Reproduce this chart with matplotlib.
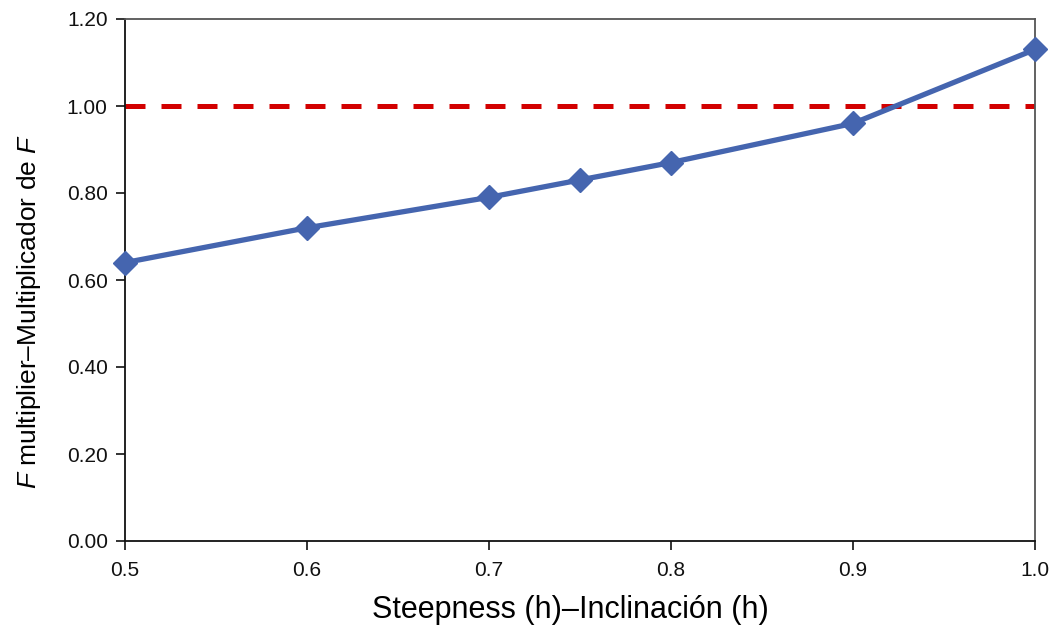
import matplotlib
matplotlib.use("Agg")
import matplotlib.pyplot as plt

# values
steepness = [0.5, 0.6, 0.7, 0.75, 0.8, 0.9, 1.0]
f_multiplier = [0.64, 0.72, 0.79, 0.83, 0.87, 0.96, 1.13]
reference_level = 1.0
x_ticks = [0.5, 0.6, 0.7, 0.8, 0.9, 1.0]
y_ticks = [0.0, 0.2, 0.4, 0.6, 0.8, 1.0, 1.2]

plt.rcParams['font.family'] = ['Liberation Sans', 'DejaVu Sans']
plt.rcParams['mathtext.fontset'] = 'custom'
plt.rcParams['mathtext.rm'] = 'Liberation Sans'
plt.rcParams['mathtext.it'] = 'Liberation Sans:italic'


def run():
    fig = plt.figure(figsize=(10.55, 6.32), dpi=100)
    ax = fig.add_axes([125 / 1055, 1 - 541 / 632, 910 / 1055, 522 / 632])

    ax.axhline(reference_level, color='#d20000', linewidth=3.6, linestyle=(0, (4, 3.2)), zorder=2)
    ax.plot(steepness, f_multiplier, color='#4565af', linewidth=3.8,
            marker='D', markersize=12, clip_on=False, zorder=3)

    ax.set_xlim(0.5, 1.0)
    ax.set_ylim(0.0, 1.2)
    ax.set_xticks(x_ticks)
    ax.set_xticklabels(['%.1f' % v for v in x_ticks])
    ax.set_yticks(y_ticks)
    ax.set_yticklabels(['%.2f' % v for v in y_ticks])
    ax.tick_params(direction='out', length=6.5, width=1.2, labelsize=15, colors='#111111')
    ax.tick_params(axis='y', pad=6)
    ax.tick_params(axis='x', pad=8)

    for side in ['left', 'bottom']:
        ax.spines[side].set_linewidth(1.3)
        ax.spines[side].set_color('#111111')
    for side in ['top', 'right']:
        ax.spines[side].set_linewidth(1.3)
        ax.spines[side].set_color('#555555')

    ax.set_xlabel('Steepness (h)–Inclinación (h)', fontsize=22)
    ax.set_ylabel('$F$ multiplier–Multiplicador de $F$', fontsize=19)
    ax.xaxis.set_label_coords(0.489, -0.103)
    ax.yaxis.set_label_coords(-0.09, 0.44)

    fig.savefig('out.png', dpi=100)


if __name__ == "__main__":
    run()
